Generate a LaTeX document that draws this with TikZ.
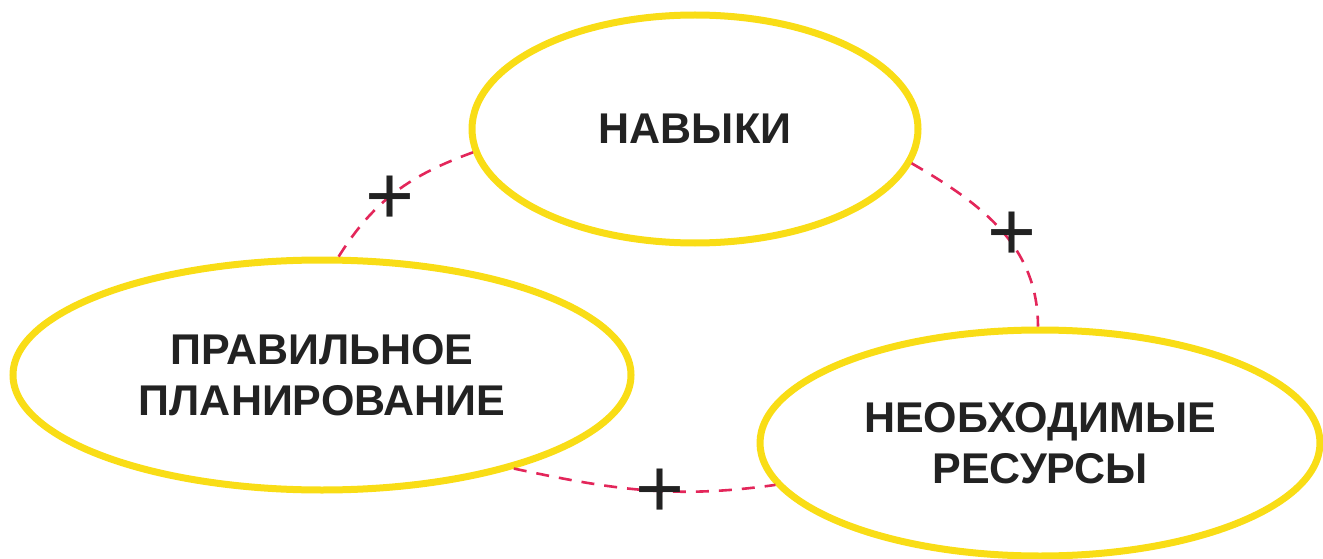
\documentclass[tikz,border=0pt]{standalone}
\usepackage{fontspec}
\setmainfont{Liberation Sans}
\usetikzlibrary{shapes.geometric}
\definecolor{ylw}{HTML}{F9DD16}
\definecolor{lnk}{HTML}{E3265A}
\definecolor{ink}{HTML}{222222}
\begin{document}
\begin{tikzpicture}[x=1pt,y=1pt,
  bubble/.style={ellipse, draw=ylw, line width=7pt, inner sep=0pt, align=center,
    text=ink, font=\fontsize{43}{51}\selectfont\bfseries},
  link/.style={draw=lnk, line width=2.6pt, dash pattern=on 13pt off 10pt},
  plus/.style={text=ink, font=\fontsize{84}{84}\selectfont, inner sep=0pt}]
\useasboundingbox (0,0) rectangle (1323,-559);
\node[bubble, minimum width=446pt, minimum height=228pt] (nav) at (695,-129) {НАВЫКИ};
\node[bubble, minimum width=618pt, minimum height=230pt] (plan) at (322,-375) {ПРАВИЛЬНОЕ\\ПЛАНИРОВАНИЕ};
\node[bubble, minimum width=560pt, minimum height=226pt] (res) at (1040,-443) {НЕОБХОДИМЫЕ\\РЕСУРСЫ};
\draw[link] (nav.186.7) to[out=200, in=58] (plan.82.7);
\draw[link] (nav.-9.3) to[out=-30, in=90] (res.91.5);
\draw[link] (plan.-26.8) to[out=-12, in=188] (res.189.5);
\node[plus] (p1) at (390,-200) {+};
\node[plus] (p2) at (1012,-236) {+};
\node[plus] (p3) at (660,-493) {+};
\end{tikzpicture}
\end{document}
